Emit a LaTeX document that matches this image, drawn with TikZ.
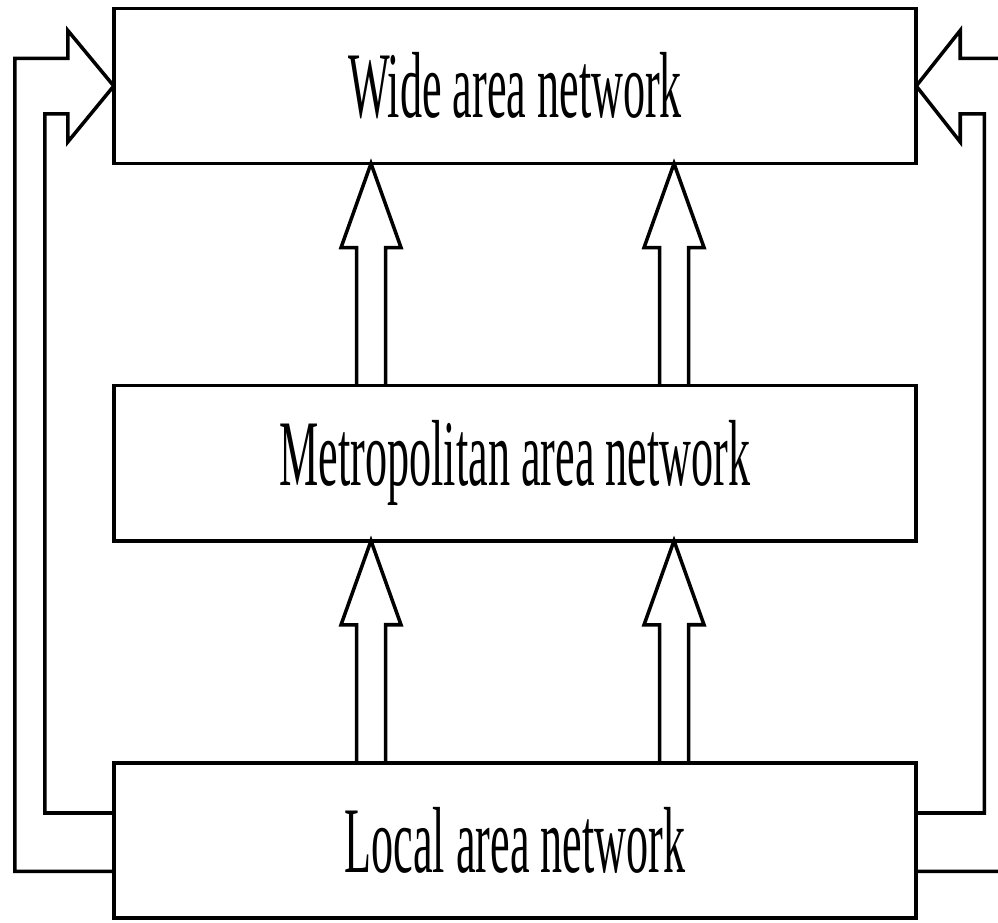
\documentclass[tikz,border=0pt]{standalone}
\usepackage{fontspec}
\usepackage{tikz}
\usetikzlibrary{positioning}
\newfontfamily\netfont[FakeStretch=0.47]{Liberation Serif}

\begin{document}
\begin{tikzpicture}[
      x=0.01cm, y=0.01cm,
      netbox/.style={draw=black, line width=1pt, outer sep=0pt,
        minimum width=8.02cm, minimum height=1.55cm,
        font=\netfont\fontsize{26.7}{30}\selectfont},
      blockarrow/.style={draw=black, line width=1pt, line join=miter}
    ]
    % ---- frame: 998 x 922 units, the right outer rail runs past the edge ----
    \useasboundingbox (0,0) rectangle (998,922);
    \clip (0,0) rectangle (998,922);

    % ---- the three levels ----
    \node[netbox] (wan) at (515,836) {Wide area network};
    \node[netbox, below=2.22cm of wan] (man) {Metropolitan area network};
    \node[netbox, below=2.22cm of man] (lan) {Local area network};

    % ---- hollow up arrows between neighbouring levels ----
    \foreach \lo/\hi in {lan/man, man/wan}
      \foreach \cx in {371,674}
        \draw[blockarrow] (\cx,0 |- \lo.north) ++(-14.5,0) -- ++(0,138) -- ++(-15.5,0)
          -- (\cx,0 |- \hi.south) -- ++(30,-84) -- ++(-15.5,0) -- ++(0,-138);

    % ---- side arrows: LAN straight up to WAN ----
    \draw[blockarrow] ([yshift=-0.31cm]lan.west) -- ++(-99,0) -- ++(0,813) -- ++(53,0)
      -- ++(0,28) -- (wan.west) -- ++(-46,-56) -- ++(0,28) -- ++(-23,0)
      -- ++(0,-699) -- ++(69,0);
    \draw[blockarrow] ([yshift=-0.31cm]lan.east) -- ++(99,0) -- ++(0,813) -- ++(-55,0)
      -- ++(0,28) -- (wan.east) -- ++(44,-56) -- ++(0,28) -- ++(24,0)
      -- ++(0,-699) -- ++(-68,0);
  \end{tikzpicture}
\end{document}
